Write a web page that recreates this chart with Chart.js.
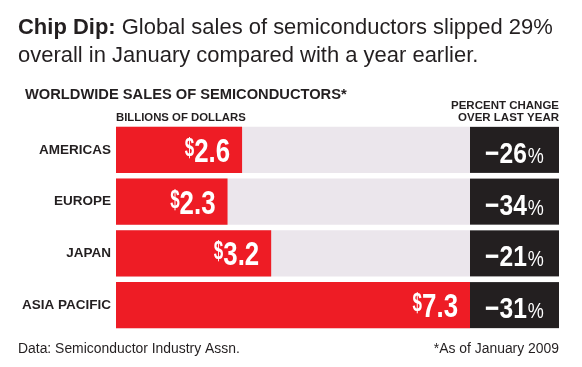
<!DOCTYPE html>
<html><head><meta charset="utf-8">
<script src="https://cdn.jsdelivr.net/npm/chart.js@4/dist/chart.umd.min.js"></script>
<style>html,body{margin:0;padding:0;background:#fff;}#wrap{width:582px;height:367px;position:relative;}canvas{display:block;}</style>
</head><body><div id="wrap"><canvas id="c" width="582" height="367"></canvas></div>
<script>
// ---- data ----
const regions = ['AMERICAS', 'EUROPE', 'JAPAN', 'ASIA PACIFIC'];
const salesBillions = [2.6, 2.3, 3.2, 7.3];
const trackValues = [7.3, 7.3, 7.3, 7.3];
const pctChange = [-26, -34, -21, -31];
const titleBold = 'Chip Dip:';
const titleLine1 = ' Global sales of semiconductors slipped 29%';
const titleLine2 = 'overall in January compared with a year earlier.';
const headerMain = 'WORLDWIDE SALES OF SEMICONDUCTORS*';
const headerUnits = 'BILLIONS OF DOLLARS';
const headerPct = ['PERCENT CHANGE', 'OVER LAST YEAR'];
const sourceNote = 'Data: Semiconductor Industry Assn.';
const dateNote = '*As of January 2009';

// ---- style ----
const FONT = '"Liberation Sans", Arial, Helvetica, sans-serif';
const RED = '#ee1c25', TRACK = '#ebe6ec', BOX = '#231f20', INK = '#231f20';

function fitSize(ctx, parts, target) {
  let w = 0;
  parts.forEach(p => { ctx.font = p.weight + ' 20px ' + FONT; w += ctx.measureText(p.text).width; });
  return 20 * target / w;
}
function drawParts(ctx, parts, x, y, size) {
  parts.forEach(p => {
    ctx.font = p.weight + ' ' + size + 'px ' + FONT;
    ctx.textAlign = 'left';
    ctx.fillText(p.text, x, y);
    x += ctx.measureText(p.text).width;
  });
}
function scaledWidth(ctx, text, font, sx) { ctx.font = font; return ctx.measureText(text).width * sx; }
function drawScaled(ctx, text, x, y, font, sx) {
  ctx.save(); ctx.font = font; ctx.textAlign = 'left'; ctx.textBaseline = 'alphabetic';
  ctx.translate(x, y); ctx.scale(sx, 1); ctx.fillText(text, 0, 0); ctx.restore();
}

const overlay = {
  id: 'overlay',
  beforeDraw(chart) {
    const ctx = chart.ctx;
    ctx.save(); ctx.fillStyle = '#fff'; ctx.fillRect(0, 0, chart.width, chart.height); ctx.restore();
  },
  afterDatasetsDraw(chart) {
    const ctx = chart.ctx, area = chart.chartArea;
    const salesMeta = chart.getDatasetMeta(1);
    ctx.save();
    salesMeta.data.forEach((bar, i) => {
      const top = bar.y - bar.height / 2;
      // percent box
      ctx.fillStyle = BOX;
      ctx.fillRect(area.right, top, 89, bar.height);
      // percent label
      ctx.fillStyle = '#fff';
      const numTxt = (pctChange[i] < 0 ? '\u2212' : '+') + Math.abs(pctChange[i]);
      const numFont = 'bold 30px ' + FONT, pctFont = '22px ' + FONT;
      const wNum = scaledWidth(ctx, numTxt, numFont, 0.82);
      const wPct = scaledWidth(ctx, '%', pctFont, 0.82);
      const gap = 1;
      const total = wNum + gap + wPct;
      const x0 = area.right + 89 / 2 - total / 2;
      const base = bar.y + 13;
      drawScaled(ctx, numTxt, x0, base, numFont, 0.82);
      drawScaled(ctx, '%', x0 + wNum + gap, base, pctFont, 0.82);
      // value label inside red bar
      const valTxt = salesBillions[i].toFixed(1);
      const vFont = 'bold 34px ' + FONT, dFont = 'bold 25px ' + FONT;
      const wVal = scaledWidth(ctx, valTxt, vFont, 0.76);
      const wDol = scaledWidth(ctx, '$', dFont, 0.68);
      const right = bar.x - 12;
      const vBase = bar.y + 12;
      drawScaled(ctx, valTxt, right - wVal, vBase, vFont, 0.76);
      drawScaled(ctx, '$', right - wVal - wDol, vBase - 6, dFont, 0.68);
    });
    ctx.restore();
  },
  afterDraw(chart) {
    const ctx = chart.ctx;
    ctx.save();
    ctx.fillStyle = INK; ctx.textBaseline = 'alphabetic';
    // title
    const t1 = [{text: titleBold, weight: 'bold'}, {text: titleLine1, weight: 'normal'}];
    const ts = fitSize(ctx, t1, 535);
    drawParts(ctx, t1, 18, 34, ts);
    drawParts(ctx, [{text: titleLine2, weight: 'normal'}], 18, 62, ts);
    // headers
    const hs = fitSize(ctx, [{text: headerMain, weight: 'bold'}], 322);
    drawParts(ctx, [{text: headerMain, weight: 'bold'}], 25, 99, hs);
    const us = fitSize(ctx, [{text: headerUnits, weight: 'bold'}], 130);
    drawParts(ctx, [{text: headerUnits, weight: 'bold'}], 116, 121, us);
    const ps = fitSize(ctx, [{text: headerPct[0], weight: 'bold'}], 108);
    ctx.font = 'bold ' + ps + 'px ' + FONT; ctx.textAlign = 'right';
    ctx.fillText(headerPct[0], 559, 109);
    ctx.fillText(headerPct[1], 559, 121);
    // footer
    const fs = fitSize(ctx, [{text: sourceNote, weight: 'normal'}], 222);
    ctx.font = fs + 'px ' + FONT; ctx.textAlign = 'left';
    ctx.fillText(sourceNote, 18, 353);
    ctx.textAlign = 'right';
    ctx.fillText(dateNote, 559, 353);
    ctx.restore();
  }
};

new Chart(document.getElementById('c'), {
  type: 'bar',
  data: {
    labels: regions,
    datasets: [
      {label: 'Track', data: trackValues, backgroundColor: TRACK, barPercentage: 0.89, categoryPercentage: 1, grouped: false, order: 1},
      {label: 'Sales (billions of dollars)', data: salesBillions, backgroundColor: RED, barPercentage: 0.89, categoryPercentage: 1, grouped: false, order: 0}
    ]
  },
  options: {
    indexAxis: 'y',
    responsive: false,
    devicePixelRatio: 1,
    animation: false,
    layout: {padding: {left: 0, right: 112, top: 124, bottom: 36}},
    plugins: {legend: {display: false}, tooltip: {enabled: false}, title: {display: false}},
    scales: {
      x: {display: false, min: 0, max: Math.max(...trackValues)},
      y: {
        grid: {display: false, drawTicks: false},
        border: {display: false},
        ticks: {font: {family: FONT, weight: 'bold', size: 13.5}, color: INK, padding: 5},
        afterFit(s) { s.width = 116; }
      }
    }
  },
  plugins: [overlay]
});
</script>
</body></html>
